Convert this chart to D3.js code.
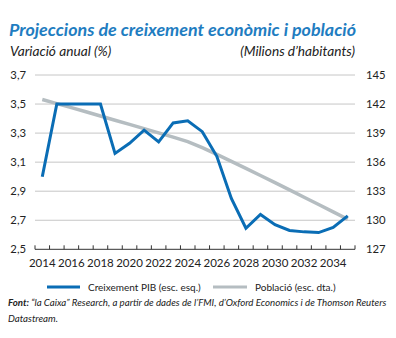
<!DOCTYPE html>
<html>
<head>
<meta charset="utf-8">
<script src="https://cdn.jsdelivr.net/npm/d3@7"></script>
<style>
  html, body { margin: 0; padding: 0; background: #fff; }
  svg { display: block; font-family: Lato, "Open Sans", sans-serif; }
</style>
</head>
<body>
<svg id="chart" width="396" height="338"></svg>
<script>
const years = [2014,2015,2016,2017,2018,2019,2020,2021,2022,2023,2024,2025,2026,2027,2028,2029,2030,2031,2032,2033,2034,2035];
const gdpGrowth = [3.0,3.5,3.5,3.5,3.5,3.16,3.23,3.32,3.24,3.37,3.385,3.31,3.14,2.85,2.645,2.74,2.67,2.63,2.62,2.615,2.65,2.73];
const population = [142.47,142.05,141.63,141.2,140.77,140.33,139.9,139.46,139.02,138.58,138.12,137.5,136.8,136.08,135.35,134.62,133.88,133.14,132.38,131.62,130.86,130.1];
const leftTicks = [2.5,2.7,2.9,3.1,3.3,3.5,3.7];
const rightTicks = [127,130,133,136,139,142,145];
const yearLabels = [2014,2016,2018,2020,2022,2024,2026,2028,2030,2032,2034];

const svg = d3.select("#chart");
const blue = "#0a6db5";
const gray = "#b5bdc1";
const plotLeft = 35, plotRight = 355, plotTop = 75, plotBottom = 249.3;

const x = d3.scaleBand().domain(years).range([plotLeft, plotRight]);
const yL = d3.scaleLinear().domain([2.5, 3.7]).range([plotBottom, plotTop]);
const yR = d3.scaleLinear().domain([127, 145]).range([plotBottom, plotTop]);

// Titles
svg.append("text").attr("x", 9).attr("y", 36)
  .attr("font-size", 17.9).attr("font-weight", "bold").attr("font-style", "italic")
  .attr("fill", "#1f7dc1").text("Projeccions de creixement econòmic i població");
svg.append("text").attr("x", 10).attr("y", 56)
  .attr("font-size", 13.7).attr("font-style", "italic").attr("fill", "#222")
  .text("Variació anual (%)");
svg.append("text").attr("x", 355).attr("y", 56).attr("text-anchor", "end")
  .attr("font-size", 13.7).attr("font-style", "italic").attr("fill", "#222")
  .text("(Milions d\u2019habitants)");

// Gridlines
svg.append("g").selectAll("line").data(leftTicks.slice(1)).join("line")
  .attr("x1", plotLeft).attr("x2", plotRight)
  .attr("y1", d => yL(d)).attr("y2", d => yL(d))
  .attr("stroke", "#c6c6c6").attr("stroke-width", 1);

// Left axis labels
svg.append("g").selectAll("text").data(leftTicks).join("text")
  .attr("x", 26).attr("y", d => yL(d) + 4)
  .attr("text-anchor", "end").attr("font-size", 11.3).attr("fill", "#222")
  .text(d => d3.format(".1f")(d).replace(".", ","));

// Right axis labels
svg.append("g").selectAll("text").data(rightTicks).join("text")
  .attr("x", 366).attr("y", d => yR(d) + 4)
  .attr("text-anchor", "start").attr("font-size", 11.3).attr("fill", "#222")
  .text(d => d);

// Bottom axis
const xAxisG = svg.append("g");
xAxisG.append("line").attr("x1", plotLeft).attr("x2", plotRight)
  .attr("y1", plotBottom).attr("y2", plotBottom).attr("stroke", "#333").attr("stroke-width", 1);
const boundaries = years.map(d => x(d)).concat([plotRight]);
xAxisG.selectAll("line.tick").data(boundaries).join("line").attr("class", "tick")
  .attr("x1", d => d).attr("x2", d => d)
  .attr("y1", plotBottom).attr("y2", plotBottom - 4)
  .attr("stroke", "#333").attr("stroke-width", 1);
xAxisG.selectAll("text").data(yearLabels).join("text")
  .attr("x", d => x(d) + x.bandwidth() / 2).attr("y", 267)
  .attr("text-anchor", "middle").attr("font-size", 11.5).attr("fill", "#222")
  .text(d => d);

// Lines
const lineGdp = d3.line().x((d, i) => x(years[i]) + x.bandwidth() / 2).y(d => yL(d));
const linePop = d3.line().x((d, i) => x(years[i]) + x.bandwidth() / 2).y(d => yR(d));
svg.append("path").datum(population).attr("d", linePop)
  .attr("fill", "none").attr("stroke", gray).attr("stroke-width", 3.5);
svg.append("path").datum(gdpGrowth).attr("d", lineGdp)
  .attr("fill", "none").attr("stroke", blue).attr("stroke-width", 3)
  .attr("stroke-linejoin", "miter");

// Legend
const lg = svg.append("g");
lg.append("line").attr("x1", 47).attr("x2", 80).attr("y1", 287).attr("y2", 287)
  .attr("stroke", blue).attr("stroke-width", 3);
lg.append("text").attr("x", 88).attr("y", 290.5).attr("font-size", 10).attr("fill", "#222")
  .text("Creixement PIB (esc. esq.)");
lg.append("line").attr("x1", 213).attr("x2", 247).attr("y1", 287).attr("y2", 287)
  .attr("stroke", gray).attr("stroke-width", 3);
lg.append("text").attr("x", 255).attr("y", 290.5).attr("font-size", 10).attr("fill", "#222")
  .text("Població (esc. dta.)");

// Footer
const f1 = svg.append("text").attr("x", 8).attr("y", 306)
  .attr("font-size", 9.7).attr("font-style", "italic").attr("fill", "#222");
f1.append("tspan").attr("font-weight", "bold").text("Font: ");
f1.append("tspan").text("\u201Cla Caixa\u201D Research, a partir de dades de l\u2019FMI, d\u2019Oxford Economics i de Thomson Reuters");
svg.append("text").attr("x", 8).attr("y", 322)
  .attr("font-size", 9.7).attr("font-style", "italic").attr("fill", "#222")
  .text("Datastream.");
</script>
</body>
</html>
